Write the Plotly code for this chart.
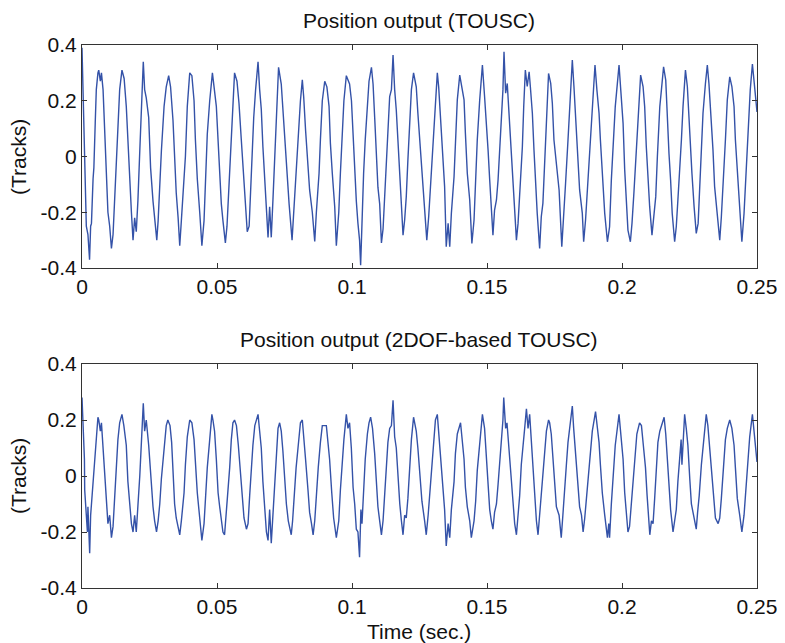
import plotly.graph_objects as go

# ---- data: (time in ms, position in tracks) ----
top_title = "Position output (TOUSC)"
bottom_title = "Position output (2DOF-based TOUSC)"
x_ticks = [0, 0.05, 0.1, 0.15, 0.2, 0.25]
x_ticklabels = ["0", "0.05", "0.1", "0.15", "0.2", "0.25"]
y_ticks = [-0.4, -0.2, 0, 0.2, 0.4]
y_ticklabels = ["-0.4", "-0.2", "0", "0.2", "0.4"]

top_samples = [
    (0.0, 0.39), (0.5, 0.2), (0.9, 0.0), (1.2, -0.10), (1.6, -0.25), (2.2, -0.28), (2.8, -0.37),
    (3.2, -0.25), (3.5, -0.24), (4.1, -0.08), (4.4, -0.04), (4.9, 0.12), (5.3, 0.24), (5.9, 0.30),
    (6.2, 0.31), (6.8, 0.27), (7.2, 0.30), (7.8, 0.24), (8.4, 0.10), (9.0, -0.08), (9.6, -0.20),
    (10.25, -0.25), (10.9, -0.33), (11.5, -0.28), (12.1, -0.14), (12.7, 0.0), (13.3, 0.14),
    (13.95, 0.24), (14.8, 0.31), (15.6, 0.28), (16.4, 0.18), (17.0, 0.05), (17.7, -0.11),
    (18.3, -0.20), (18.9, -0.30), (19.5, -0.22), (20.1, -0.27), (20.7, -0.16), (21.4, 0.02),
    (22.0, 0.20), (22.7, 0.34), (23.2, 0.24), (23.8, 0.21), (24.7, 0.14), (25.4, -0.04),
    (26.3, -0.16), (26.9, -0.21), (27.7, -0.30), (28.2, -0.23), (28.8, -0.08), (29.4, 0.02),
    (30.4, 0.18), (31.2, 0.25), (32.1, 0.29), (32.8, 0.25), (33.7, 0.13), (34.3, -0.02),
    (34.9, -0.13), (35.6, -0.22), (36.2, -0.32), (36.8, -0.23), (37.8, -0.10), (38.3, 0.0),
    (39.0, 0.18), (39.9, 0.30), (40.7, 0.29), (41.5, 0.20), (42.0, 0.06), (42.7, -0.08),
    (43.6, -0.20), (44.4, -0.32), (45.2, -0.23), (45.8, -0.06), (46.4, 0.08), (47.3, 0.20),
    (48.3, 0.30), (49.75, 0.18), (50.4, 0.06), (51.0, -0.08), (51.6, -0.17), (52.2, -0.23),
    (53.1, -0.31), (53.7, -0.25), (54.3, -0.12), (54.7, -0.04), (55.3, 0.09), (55.9, 0.21),
    (56.5, 0.30), (57.4, 0.27), (58.15, 0.19), (59.0, 0.06), (59.6, -0.04), (60.25, -0.14),
    (60.9, -0.25), (61.2, -0.27), (61.9, -0.25), (62.4, -0.13), (63.1, 0.0), (63.6, 0.14),
    (64.3, 0.24), (65.2, 0.34), (65.8, 0.24), (66.4, 0.17), (67.0, 0.035), (67.7, -0.08),
    (68.3, -0.18), (68.9, -0.29), (69.5, -0.18), (70.1, -0.29), (70.7, -0.16), (71.4, 0.02),
    (72.0, 0.18), (72.8, 0.32), (73.8, 0.26), (74.4, 0.17), (75.1, 0.035), (75.7, -0.06),
    (76.7, -0.17), (77.8, -0.30), (78.4, -0.20), (79.1, -0.06), (80.0, 0.07), (80.9, 0.20),
    (81.6, 0.275), (82.1, 0.215), (82.8, 0.095), (83.7, -0.025), (84.3, -0.12), (85.3, -0.20),
    (86.2, -0.305), (86.8, -0.20), (87.8, -0.06), (88.3, 0.06), (89.0, 0.20), (89.9, 0.27),
    (90.7, 0.25), (91.5, 0.18), (92.0, 0.047), (92.7, -0.06), (93.6, -0.18), (94.2, -0.32),
    (95.1, -0.20), (95.7, -0.06), (96.4, 0.08), (97.0, 0.20), (97.9, 0.29), (99.1, 0.26),
    (99.8, 0.20), (100.4, 0.06), (101.0, -0.06), (101.6, -0.16), (102.2, -0.24), (102.8, -0.30),
    (103.2, -0.39), (103.7, -0.20), (104.3, -0.06), (104.9, 0.06), (105.7, 0.18), (106.3, 0.27),
    (107.2, 0.32), (107.8, 0.26), (108.4, 0.14), (109.0, 0.023), (109.6, -0.11), (110.25, -0.17),
    (110.9, -0.31), (111.5, -0.26), (112.1, -0.14), (112.7, -0.013), (113.3, 0.107), (113.95, 0.215),
    (114.6, 0.24), (115.2, 0.364), (115.8, 0.24), (116.4, 0.167), (117.0, 0.06), (117.7, -0.06),
    (118.3, -0.168), (118.9, -0.282), (119.5, -0.228), (120.1, -0.144), (120.7, -0.013), (121.4, 0.107),
    (122.0, 0.24), (122.8, 0.30), (123.8, 0.25), (124.4, 0.155), (125.1, 0.06), (125.9, -0.048),
    (126.9, -0.18), (127.7, -0.30), (128.4, -0.216), (129.1, -0.096), (130.0, 0.06), (130.9, 0.19),
    (131.6, 0.30), (132.1, 0.25), (132.8, 0.143), (133.7, -0.013), (134.3, -0.108), (134.9, -0.324),
    (135.6, -0.24), (136.2, -0.324), (136.8, -0.204), (137.8, -0.072), (138.3, 0.06), (139.0, 0.203),
    (139.9, 0.292), (140.7, 0.24), (141.5, 0.203), (142.0, 0.083), (142.7, -0.06), (143.6, -0.156),
    (144.4, -0.312), (145.2, -0.228), (145.8, -0.084), (146.4, 0.06), (147.3, 0.203), (148.3, 0.328),
    (149.1, 0.215), (149.75, 0.131), (150.4, 0.023), (151.0, -0.084), (151.6, -0.18), (152.2, -0.282),
    (152.8, -0.192), (153.5, -0.156), (154.1, -0.084), (154.7, 0.023), (155.3, 0.155), (155.9, 0.239),
    (156.3, 0.376), (156.9, 0.227), (157.5, 0.262), (158.1, 0.167), (158.9, 0.035), (159.6, -0.108),
    (160.25, -0.204), (160.9, -0.30), (161.5, -0.24), (162.35, -0.096), (163.1, 0.035), (163.6, 0.179),
    (164.2, 0.31), (164.9, 0.251), (165.6, 0.304), (166.05, 0.251), (166.8, 0.155), (167.4, 0.023),
    (168.0, -0.108), (168.6, -0.204), (169.5, -0.33), (170.1, -0.216), (170.7, -0.168), (171.4, -0.001),
    (172.0, 0.107), (172.8, 0.298), (173.6, 0.262), (174.2, 0.191), (174.8, 0.059), (175.7, -0.037),
    (176.7, -0.12), (177.7, -0.324), (178.4, -0.228), (179.1, -0.096), (180.0, 0.059), (180.9, 0.227),
    (181.6, 0.346), (182.2, 0.251), (182.8, 0.155), (183.7, 0.011), (184.3, -0.12), (185.3, -0.204),
    (185.8, -0.306), (186.5, -0.228), (187.4, -0.084), (188.3, 0.059), (189.3, 0.239), (190.0, 0.328),
    (190.7, 0.239), (191.5, 0.155), (192.0, 0.059), (192.7, -0.06), (193.6, -0.204), (194.6, -0.306),
    (195.4, -0.252), (196.05, -0.084), (196.7, 0.059), (197.5, 0.179), (198.9, 0.328), (199.5, 0.227),
    (200.4, 0.119), (201.0, -0.048), (201.6, -0.156), (202.2, -0.264), (203.1, -0.306), (203.7, -0.24),
    (204.4, -0.132), (205.3, 0.023), (206.2, 0.215), (206.9, 0.292), (207.8, 0.251), (208.4, 0.179),
    (209.0, 0.035), (209.6, -0.096), (210.25, -0.18), (211.1, -0.282), (211.85, -0.204), (212.5, -0.144),
    (213.1, -0.001), (214.0, 0.179), (214.6, 0.239), (215.4, 0.322), (216.2, 0.274), (216.8, 0.131),
    (217.4, 0.011), (218.0, -0.084), (218.6, -0.204), (219.5, -0.306), (220.1, -0.252), (220.7, -0.156),
    (221.4, -0.06), (222.0, 0.059), (222.6, 0.179), (223.5, 0.31), (224.2, 0.251), (224.7, 0.143),
    (225.3, 0.059), (225.9, -0.06), (226.7, -0.18), (227.5, -0.276), (228.2, -0.24), (228.8, -0.096),
    (229.4, 0.023), (230.0, 0.155), (230.9, 0.262), (231.6, 0.328), (232.2, 0.262), (232.8, 0.179),
    (233.7, 0.023), (234.3, -0.108), (235.3, -0.204), (236.2, -0.30), (236.8, -0.216), (237.8, -0.06),
    (238.3, 0.059), (239.0, 0.203), (239.9, 0.286), (240.7, 0.251), (241.5, 0.179), (242.0, 0.059),
    (242.7, -0.06), (243.6, -0.18), (244.4, -0.306), (245.2, -0.204), (245.8, -0.084), (246.7, 0.059),
    (247.5, 0.239), (248.3, 0.332), (249.1, 0.262), (249.75, 0.203), (250.0, 0.16),
]

bottom_samples = [
    (0.0, 0.28), (0.5, 0.15), (0.9, 0.06), (1.0, -0.05), (1.6, -0.13), (2.0, -0.20), (2.2, -0.11),
    (2.6, -0.19), (2.84, -0.276), (3.2, -0.14), (3.5, -0.10), (4.1, -0.04), (4.6, 0.05), (5.3, 0.15),
    (5.9, 0.21), (6.2, 0.20), (6.8, 0.16), (7.2, 0.19), (7.8, 0.09), (8.4, -0.01), (9.0, -0.09),
    (9.6, -0.17), (10.25, -0.14), (10.9, -0.22), (11.5, -0.18), (12.1, -0.07), (12.7, 0.03),
    (13.3, 0.13), (13.95, 0.19), (14.8, 0.22), (15.5, 0.18), (16.4, 0.11), (17.0, -0.02),
    (17.65, -0.10), (18.3, -0.17), (18.9, -0.20), (19.5, -0.14), (20.1, -0.20), (20.7, -0.12),
    (21.4, 0.0), (22.0, 0.12), (22.7, 0.26), (23.2, 0.16), (23.8, 0.20), (24.7, 0.11), (25.4, 0.0),
    (26.3, -0.11), (26.9, -0.16), (27.6, -0.20), (28.2, -0.16), (28.8, -0.10), (29.4, -0.01),
    (30.4, 0.11), (31.2, 0.18), (31.8, 0.20), (32.6, 0.18), (33.2, 0.12), (33.9, -0.01), (34.3, -0.10),
    (34.9, -0.15), (35.6, -0.19), (36.2, -0.21), (36.8, -0.16), (37.8, -0.06), (38.3, 0.04),
    (39.0, 0.14), (39.9, 0.20), (40.7, 0.19), (41.5, 0.13), (42.0, 0.05), (42.7, -0.06), (43.6, -0.15),
    (44.4, -0.23), (45.2, -0.17), (45.8, -0.06), (46.4, 0.03), (47.3, 0.13), (48.1, 0.22),
    (48.5, 0.20), (49.1, 0.16), (49.75, 0.06), (50.4, -0.06), (51.0, -0.11), (51.6, -0.16),
    (52.2, -0.20), (52.8, -0.21), (53.4, -0.14), (53.9, -0.06), (54.7, 0.03), (55.3, 0.13),
    (55.9, 0.19), (56.5, 0.20), (57.2, 0.18), (57.9, 0.11), (58.7, 0.02), (59.3, -0.07), (60.0, -0.15),
    (60.9, -0.19), (61.5, -0.17), (62.1, -0.07), (62.7, 0.04), (63.3, 0.11), (64.0, 0.18), (65.2, 0.22),
    (65.8, 0.16), (66.4, 0.10), (67.0, -0.02), (67.7, -0.11), (68.3, -0.20), (68.9, -0.23),
    (69.5, -0.12), (70.1, -0.24), (70.7, -0.15), (71.4, -0.03), (72.0, 0.08), (72.6, 0.17),
    (73.2, 0.19), (73.8, 0.16), (74.4, 0.09), (75.1, -0.01), (75.7, -0.10), (76.4, -0.16),
    (77.5, -0.21), (78.0, -0.16), (78.6, -0.06), (79.3, 0.03), (80.0, 0.10), (80.9, 0.19),
    (81.6, 0.20), (82.1, 0.15), (82.8, 0.06), (83.7, -0.05), (84.3, -0.13), (85.0, -0.17),
    (85.6, -0.21), (86.2, -0.16), (86.8, -0.06), (87.5, 0.03), (88.3, 0.12), (89.0, 0.18),
    (90.5, 0.18), (91.1, 0.13), (91.7, 0.06), (92.5, -0.06), (93.2, -0.15), (94.2, -0.22),
    (95.1, -0.16), (95.7, -0.05), (96.4, 0.05), (97.0, 0.13), (97.9, 0.22), (98.5, 0.17),
    (99.1, 0.19), (99.75, 0.10), (100.4, -0.04), (101.0, -0.10), (101.6, -0.19), (102.2, -0.20),
    (102.8, -0.29), (103.3, -0.12), (103.7, -0.17), (104.3, -0.04), (104.9, 0.06), (105.7, 0.15),
    (106.3, 0.19), (106.9, 0.21), (107.6, 0.17), (108.4, 0.08), (109.0, -0.04), (109.6, -0.11),
    (110.25, -0.16), (110.9, -0.21), (111.5, -0.16), (112.1, -0.05), (112.7, 0.05), (113.3, 0.12),
    (113.95, 0.17), (114.6, 0.18), (115.2, 0.27), (115.8, 0.14), (116.4, 0.10), (117.0, -0.01),
    (117.7, -0.10), (118.3, -0.16), (118.9, -0.21), (119.5, -0.14), (120.1, -0.15), (120.7, -0.08),
    (121.4, 0.04), (122.0, 0.13), (122.8, 0.21), (123.8, 0.16), (124.4, 0.10), (125.1, 0.01),
    (125.9, -0.09), (126.9, -0.16), (127.5, -0.21), (128.2, -0.14), (128.8, -0.07), (129.4, 0.03),
    (130.0, 0.10), (130.9, 0.20), (131.6, 0.22), (132.1, 0.16), (132.8, 0.06), (133.7, -0.04),
    (134.3, -0.12), (134.9, -0.25), (135.6, -0.17), (136.2, -0.22), (136.8, -0.12), (137.8, -0.02),
    (138.3, 0.08), (139.0, 0.15), (140.2, 0.19), (140.7, 0.14), (141.5, 0.06), (142.0, -0.04),
    (142.7, -0.11), (143.6, -0.16), (144.2, -0.22), (145.2, -0.16), (145.8, -0.09), (146.4, 0.02),
    (147.3, 0.13), (148.3, 0.22), (149.1, 0.17), (149.75, 0.06), (150.4, -0.05), (151.0, -0.12),
    (151.6, -0.16), (152.2, -0.19), (152.8, -0.13), (153.5, -0.10), (154.1, -0.03), (154.7, 0.05),
    (155.3, 0.12), (155.9, 0.20), (156.2, 0.28), (156.9, 0.17), (157.4, 0.19), (158.1, 0.10),
    (158.9, -0.03), (159.6, -0.10), (160.25, -0.17), (160.9, -0.21), (161.5, -0.15), (162.1, -0.07),
    (162.7, 0.04), (163.3, 0.12), (163.95, 0.17), (164.6, 0.24), (165.2, 0.17), (165.8, 0.22),
    (166.4, 0.13), (167.0, 0.02), (167.7, -0.09), (168.3, -0.16), (168.9, -0.21), (169.5, -0.14),
    (170.1, -0.08), (170.7, 0.0), (171.4, 0.10), (172.0, 0.16), (172.8, 0.20), (173.2, 0.19),
    (173.8, 0.15), (174.4, 0.06), (175.1, -0.03), (175.7, -0.11), (176.7, -0.14), (177.5, -0.22),
    (178.1, -0.14), (178.8, -0.06), (179.4, 0.04), (180.0, 0.12), (180.9, 0.20), (181.6, 0.25),
    (182.1, 0.17), (182.8, 0.09), (183.7, -0.03), (184.3, -0.11), (185.0, -0.14), (185.6, -0.20),
    (186.2, -0.15), (186.8, -0.08), (187.8, 0.04), (188.3, 0.10), (189.0, 0.16), (190.2, 0.23),
    (190.7, 0.18), (191.5, 0.12), (192.0, 0.04), (192.7, -0.06), (193.6, -0.14), (194.6, -0.22),
    (195.1, -0.17), (195.4, -0.22), (196.05, -0.10), (196.7, 0.0), (197.5, 0.11), (198.9, 0.22),
    (199.5, 0.16), (200.4, 0.06), (201.0, -0.06), (201.6, -0.15), (202.2, -0.20), (202.8, -0.18),
    (203.4, -0.11), (204.1, -0.03), (204.7, 0.07), (205.5, 0.15), (206.5, 0.19), (207.2, 0.18),
    (207.9, 0.11), (208.7, 0.03), (209.3, -0.07), (209.8, -0.13), (210.3, -0.21), (210.9, -0.16),
    (211.5, -0.17), (212.1, -0.08), (212.7, 0.04), (213.3, 0.12), (214.0, 0.16), (215.6, 0.21),
    (216.2, 0.15), (216.8, 0.06), (217.4, -0.04), (218.0, -0.12), (218.9, -0.20), (219.5, -0.15),
    (220.1, -0.12), (220.7, -0.02), (221.4, 0.07), (221.9, 0.13), (222.2, 0.04), (222.8, 0.16),
    (223.2, 0.22), (223.8, 0.17), (224.4, 0.11), (225.1, -0.01), (225.7, -0.10), (226.5, -0.14),
    (227.5, -0.19), (228.0, -0.13), (228.6, -0.07), (229.4, 0.04), (230.0, 0.11), (231.2, 0.22),
    (231.8, 0.18), (232.5, 0.09), (233.3, -0.01), (233.9, -0.09), (234.6, -0.15), (235.6, -0.17),
    (236.2, -0.15), (236.8, -0.08), (237.5, 0.03), (238.3, 0.13), (239.0, 0.17), (239.9, 0.20),
    (240.7, 0.17), (241.5, 0.11), (242.0, 0.03), (242.7, -0.08), (243.6, -0.14), (244.4, -0.20),
    (245.2, -0.14), (245.8, -0.05), (246.4, 0.04), (247.3, 0.14), (248.3, 0.22), (249.1, 0.15),
    (249.75, 0.08), (250.0, 0.05),
]

top_t = [p[0] / 1000 for p in top_samples]
top_y = [p[1] for p in top_samples]
bot_t = [p[0] / 1000 for p in bottom_samples]
bot_y = [p[1] for p in bottom_samples]

LINE = "#3452a8"
FONT = "Liberation Sans, Arial, sans-serif"
FS = 21
# the page body adds an 8 px margin, so the figure is drawn 8 px smaller and
# every position below is expressed in page pixels minus that offset
OFF = 8
W, H = 785 - OFF, 643 - OFF


def px_x(x):
    return (x - OFF) / W


def px_y(y):
    return 1 - (y - OFF) / H


fig = go.Figure()
fig.add_trace(go.Scatter(x=top_t, y=top_y, mode="lines", line=dict(color=LINE, width=1.4),
                         xaxis="x", yaxis="y", showlegend=False, hoverinfo="skip"))
fig.add_trace(go.Scatter(x=bot_t, y=bot_y, mode="lines", line=dict(color=LINE, width=1.4),
                         xaxis="x2", yaxis="y2", showlegend=False, hoverinfo="skip"))

xdom = [px_x(82), px_x(757)]
top_dom = [px_y(268), px_y(45)]
bot_dom = [px_y(588), px_y(364)]

axis_common = dict(showline=True, linecolor="#333", linewidth=1, mirror="allticks",
                   ticks="inside", ticklen=5, tickcolor="#333", showgrid=False, zeroline=False,
                   automargin=False,
                   tickfont=dict(family=FONT, size=FS, color="#111"))

txt = dict(family=FONT, size=FS, color="#111")

fig.update_layout(
    template="none",
    width=W, height=H, margin=dict(l=0, r=0, t=0, b=0, autoexpand=False),
    paper_bgcolor="white", plot_bgcolor="white",
    xaxis=dict(domain=xdom, anchor="y", range=[0, 0.25], tickvals=x_ticks, ticktext=x_ticklabels, **axis_common),
    yaxis=dict(domain=top_dom, anchor="x", range=[-0.4, 0.4], tickvals=y_ticks, ticktext=y_ticklabels, **axis_common),
    xaxis2=dict(domain=xdom, anchor="y2", range=[0, 0.25], tickvals=x_ticks, ticktext=x_ticklabels, **axis_common),
    yaxis2=dict(domain=bot_dom, anchor="x2", range=[-0.4, 0.4], tickvals=y_ticks, ticktext=y_ticklabels, **axis_common),
    annotations=[
        dict(text=top_title, x=px_x(419), y=px_y(20), xref="paper", yref="paper", showarrow=False,
             font=txt, xanchor="center", yanchor="middle"),
        dict(text=bottom_title, x=px_x(419), y=px_y(339), xref="paper", yref="paper", showarrow=False,
             font=txt, xanchor="center", yanchor="middle"),
        dict(text="Time (sec.)", x=px_x(419), y=px_y(631), xref="paper", yref="paper", showarrow=False,
             font=txt, xanchor="center", yanchor="middle"),
        dict(text="(Tracks)", x=px_x(18), y=px_y(157), xref="paper", yref="paper", showarrow=False,
             textangle=-90, font=txt, xanchor="center", yanchor="middle"),
        dict(text="(Tracks)", x=px_x(18), y=px_y(476), xref="paper", yref="paper", showarrow=False,
             textangle=-90, font=txt, xanchor="center", yanchor="middle"),
    ],
)

fig.write_html("out.html")
